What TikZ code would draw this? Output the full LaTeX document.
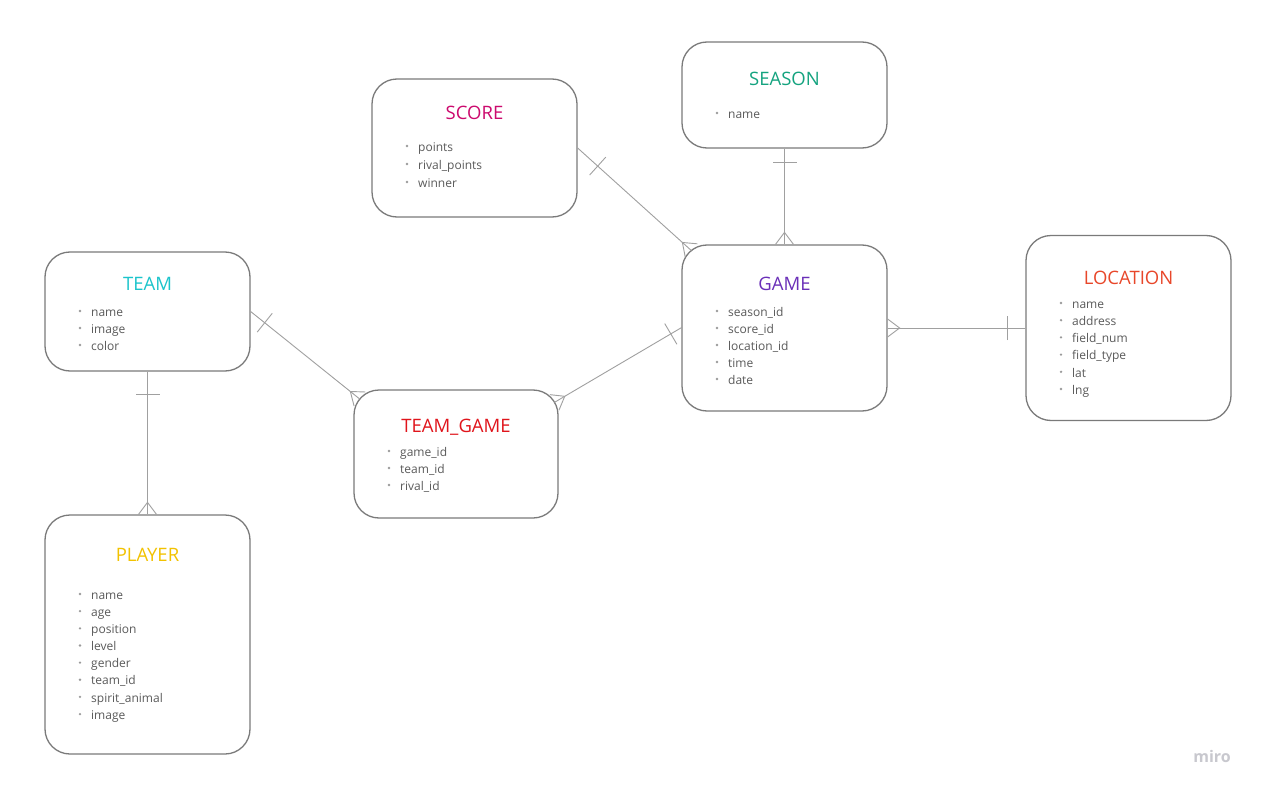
\documentclass[tikz,border=0pt]{standalone}
\usepackage{fontspec}
\setmainfont{Open Sans}
\usetikzlibrary{calc}
\definecolor{boxline}{HTML}{7A7A7A}
\definecolor{connc}{HTML}{A0A0A0}
\definecolor{itemc}{HTML}{5A5A5A}
\definecolor{bulletc}{HTML}{9A9A9A}
\definecolor{cScore}{HTML}{CC0A6E}
\definecolor{cSeason}{HTML}{14A37F}
\definecolor{cTeam}{HTML}{1BC4CB}
\definecolor{cGame}{HTML}{6A2FB8}
\definecolor{cLoc}{HTML}{E8472A}
\definecolor{cTG}{HTML}{E0141B}
\definecolor{cPlayer}{HTML}{F2C200}
\definecolor{miroc}{HTML}{C8C8CE}
\tikzset{
  entbox/.style={draw=boxline, line width=1.3pt, rounded corners=25pt, inner sep=0pt},
  enttitle/.style={anchor=base, inner sep=0pt, font=\fontsize{18.5}{22}\selectfont},
  item/.style={anchor=base west, inner sep=0pt, text=itemc, font=\fontsize{12}{14}\selectfont},
  conn/.style={draw=connc, line width=0.9pt},
}
% #1 one-end, #2 many-end, #3 bar distance
\newcommand\erlink[3]{%
  \draw[conn] (#1) -- (#2);
  \draw[conn] ($(#1)!#3pt!(#2)!12pt!90:(#2)$) -- ($(#1)!#3pt!(#2)!12pt!-90:(#2)$);
  \draw[conn] ($(#2)!9pt!90:(#1)$) -- ($(#2)!12pt!(#1)$) -- ($(#2)!9pt!-90:(#1)$);
}
% #1 prefix, #2 left x, #3 first y, #4 spacing, #5 list
\newcommand\entitems[5]{%
  \foreach \t [count=\i from 0] in {#5} {
    \fill[bulletc] ({#2+35},{#3+\i*#4}) circle (1.3);
    \node[item] (#1-\i) at ({#2+46},{#3+\i*#4+5.2}) {\t};
  }
}
\begin{document}
\begin{tikzpicture}[x=1pt,y=-1pt]
\fill[white] (0,0) rectangle (1262,792);
\useasboundingbox (0,0) rectangle (1262,792);

% boxes
\node[entbox, minimum width=205pt, minimum height=138pt] (score) at (474.5,148) {};
\node[entbox, minimum width=205pt, minimum height=106pt] (season) at (784.5,95) {};
\node[entbox, minimum width=205pt, minimum height=119pt] (team) at (147.5,311.5) {};
\node[entbox, minimum width=205pt, minimum height=166pt] (game) at (784.5,328) {};
\node[entbox, minimum width=205pt, minimum height=185pt] (location) at (1128.5,328) {};
\node[entbox, minimum width=204pt, minimum height=128pt] (teamgame) at (456,454) {};
\node[entbox, minimum width=205pt, minimum height=239pt] (player) at (147.5,634.5) {};

% titles
\node[enttitle, text=cScore] (scoreT) at (474.5,119) {SCORE};
\node[enttitle, text=cSeason] (seasonT) at (784.5,86) {SEASON};
\node[enttitle, text=cTeam] (teamT) at (147.5,290) {TEAM};
\node[enttitle, text=cGame] (gameT) at (784.5,290) {GAME};
\node[enttitle, text=cLoc] (locT) at (1128.5,284) {LOCATION};
\node[enttitle, text=cTG] (tgT) at (456,432) {TEAM\_GAME};
\node[enttitle, text=cPlayer] (playerT) at (147.5,561) {PLAYER};

% items
\entitems{sc}{372}{146}{18}{points,rival\_points,winner}
\entitems{se}{682}{113}{17}{name}
\entitems{te}{45}{311}{17}{name,image,color}
\entitems{ga}{682}{311}{17}{season\_id,score\_id,location\_id,time,date}
\entitems{lo}{1026}{303}{17.2}{name,address,field\_num,field\_type,lat,lng}
\entitems{tg}{354}{451}{17}{game\_id,team\_id,rival\_id}
\entitems{pl}{45}{594}{17.15}{name,age,position,level,gender,team\_id,spirit\_animal,image}

% connector end points on rounded corners
\coordinate (gameNW) at (691.3,250.5);
\coordinate (tgNW) at (359.7,399);
\coordinate (tgNE) at (554.4,402.4);
\coordinate (gameW) at (682,327.3);

% connectors
\erlink{score.east}{gameNW}{27}
\erlink{season.south}{game.north}{14}
\erlink{team.east}{tgNW}{18}
\erlink{gameW}{tgNE}{13}
\erlink{location.west}{game.east}{18}
\erlink{team.south}{player.north}{23}

% logo
\node[inner sep=0pt, text=miroc, font=\bfseries\fontsize{16}{18}\selectfont] (miro) at (1212,756) {miro};
\end{tikzpicture}
\end{document}
